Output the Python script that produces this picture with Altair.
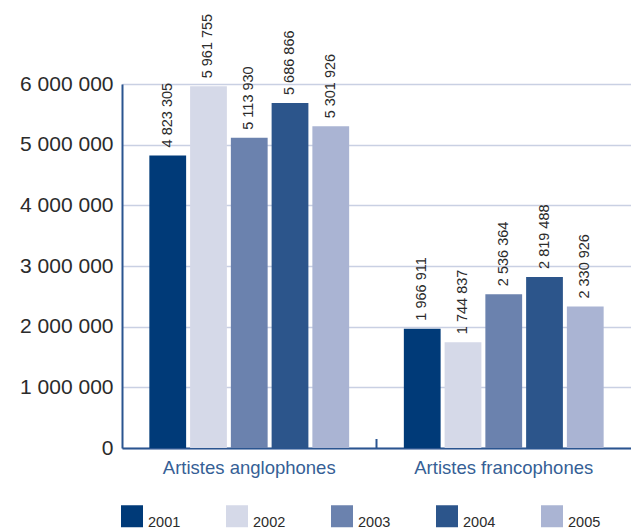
import altair as alt
import pandas as pd

categories = ["Artistes anglophones", "Artistes francophones"]
years = ["2001", "2002", "2003", "2004", "2005"]
anglophones = [4823305, 5961755, 5113930, 5686866, 5301926]
francophones = [1966911, 1744837, 2536364, 2819488, 2330926]
year_colors = ["#003a78", "#d5d9e8", "#6b82ae", "#2c558b", "#aab4d3"]
y_ticks = [0, 1000000, 2000000, 3000000, 4000000, 5000000, 6000000]

rows = []
for cat, vals in zip(categories, [anglophones, francophones]):
    for yr, v in zip(years, vals):
        rows.append({"cat": cat, "year": yr, "value": v,
                     "label": f"{v:,}".replace(",", " ")})
df = pd.DataFrame(rows)

W, H = 509, 364
AXIS_BLUE = "#2a5590"
FONT = "Liberation Sans"

x = alt.X(
    "cat:N", sort=categories, title=None,
    scale=alt.Scale(paddingInner=0, paddingOuter=0),
    axis=alt.Axis(ticks=False, grid=False, domainColor=AXIS_BLUE, domainWidth=2,
                  labelFontSize=18.5, labelColor="#365f96", labelPadding=10,
                  labelFont=FONT, labelAngle=0),
)
xo = alt.XOffset("year:N", sort=years,
                 scale=alt.Scale(paddingInner=0.0976, paddingOuter=0.671))
y = alt.Y(
    "value:Q", title=None,
    scale=alt.Scale(domain=[0, 6000000], nice=False),
    axis=alt.Axis(values=y_ticks, ticks=False, grid=True, gridColor="#c9d0e3",
                  gridWidth=1.5, domainColor=AXIS_BLUE, domainWidth=2,
                  labelFontSize=21, labelColor="#2b2b2b", labelPadding=9,
                  labelFont=FONT,
                  labelExpr="replace(replace(format(datum.value, ','), ',', ' '), ',', ' ')"),
)
color = alt.Color(
    "year:N", sort=years,
    scale=alt.Scale(domain=years, range=year_colors),
    legend=alt.Legend(title=None, orient="none", legendX=-1, legendY=421,
                      direction="horizontal", columns=5, symbolType="square",
                      symbolSize=484, symbolStrokeWidth=0, symbolOpacity=1,
                      labelFontSize=14.5, labelColor="#2b2b2b", labelFont=FONT,
                      labelBaseline="top", labelOffset=5, columnPadding=45,
                      padding=0),
)

bars = alt.Chart(df).mark_bar().encode(x=x, xOffset=xo, y=y, color=color)

labels = alt.Chart(df).mark_text(
    angle=270, align="left", baseline="middle", dx=8,
    fontSize=14.5, color="#2b2b2b", font=FONT,
).encode(x=x, xOffset=xo, y=y, text="label:N")

# small tick separating the two groups on the category axis
sep = alt.Chart(pd.DataFrame({"cat": [categories[1]]})).mark_rule(
    color=AXIS_BLUE, strokeWidth=2
).encode(
    x=alt.X("cat:N", sort=categories, bandPosition=0),
    y=alt.value(H - 9), y2=alt.value(H),
)

chart = alt.layer(bars, labels, sep).properties(
    width=W, height=H,
    autosize=alt.AutoSizeParams(type="none"),
    padding={"left": 122, "top": 84, "right": 0, "bottom": 81},
).configure_view(stroke=None).configure(font=FONT)

chart.save("out.html", embed_options={"renderer": "svg", "actions": False})
